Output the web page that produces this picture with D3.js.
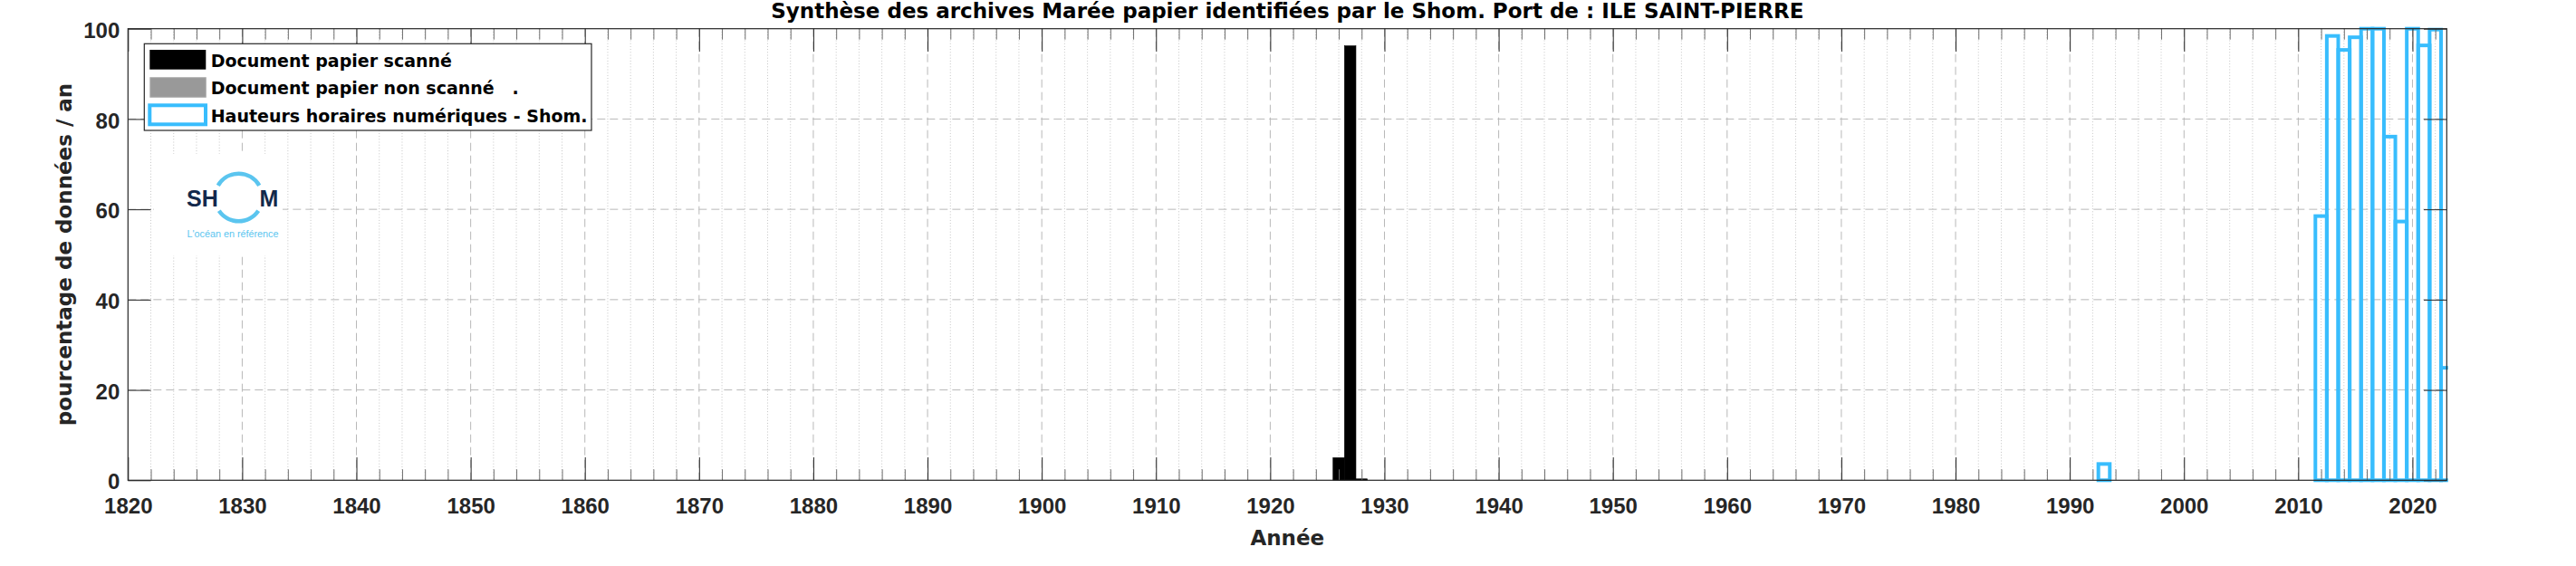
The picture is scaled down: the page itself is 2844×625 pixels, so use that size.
<!DOCTYPE html>
<html><head><meta charset="utf-8">
<script src="https://cdn.jsdelivr.net/npm/d3@7"></script>
<style>
html,body{margin:0;padding:0;background:#fff;}
svg{display:block;}
</style></head><body>
<script>
// ---- data ----
const titleText = "Synthèse des archives Marée papier identifiées par le Shom. Port de : ILE SAINT-PIERRE";
const xLabelText = "Année";
const yLabelText = "pourcentage de données / an";
const legendLabels = ["Document papier scanné", "Document papier non scanné   .", "Hauteurs horaires numériques - Shom."];
const scannedYears = [1926, 1927, 1928];
const scannedPct = [5.0, 96.2, 0.3];
const nonScannedYears = [];
const nonScannedPct = [];
const numericYears = [1993, 2012, 2013, 2014, 2015, 2016, 2017, 2018, 2019, 2020, 2021, 2022, 2023];
const numericPct = [3.6, 58.5, 98.4, 95.3, 98.1, 100, 100, 76.1, 57.3, 100, 96.3, 99.8, 24.9];
const xTickValues = [1820, 1830, 1840, 1850, 1860, 1870, 1880, 1890, 1900, 1910, 1920, 1930, 1940, 1950, 1960, 1970, 1980, 1990, 2000, 2010, 2020];
const xTickLabels = ["1820", "1830", "1840", "1850", "1860", "1870", "1880", "1890", "1900", "1910", "1920", "1930", "1940", "1950", "1960", "1970", "1980", "1990", "2000", "2010", "2020"];
const yTickValues = [0, 20, 40, 60, 80, 100];
const yTickLabels = ["0", "20", "40", "60", "80", "100"];
const xDomain = [1820, 2023];
const yDomain = [0, 100];
const logoWord = ["SH", "M"];
const logoTagline = "L'océan en référence";

// ---- layout ----
const W = 2844, H = 625;
const L = 141.3, R = 2701.3, T = 31.7, B = 530.3;
const TICK = 25.3, MINOR = 12;
const COL_TXT = "#262626";
const BLUE = "#38bdfd";
const TICK_FONT = "'Liberation Sans', Arial, Helvetica, sans-serif";
const LAB_FONT = "'DejaVu Sans', Verdana, sans-serif";

const svg = d3.select("body").append("svg").attr("width", W).attr("height", H);
const x = d3.scaleLinear().domain(xDomain).range([L, R]);
const y = d3.scaleLinear().domain(yDomain).range([B, T]);
const xMinor = d3.range(xDomain[0] + 2, xDomain[1], 2).filter(d => d % 10 !== 0);

// ---- grid ----
const grid = svg.append("g");
grid.selectAll(".mg").data(xMinor).join("line")
  .attr("x1", d => x(d)).attr("x2", d => x(d)).attr("y1", T).attr("y2", B)
  .attr("stroke", "#c4c4c4").attr("stroke-width", 1).attr("stroke-dasharray", "1,2.2");
grid.selectAll(".xg").data(xTickValues.filter(d => d > xDomain[0])).join("line")
  .attr("x1", d => x(d)).attr("x2", d => x(d)).attr("y1", T).attr("y2", B)
  .attr("stroke", "#b8b8b8").attr("stroke-width", 1).attr("stroke-dasharray", "9,5");
grid.selectAll(".yg").data(yTickValues.filter(d => d > 0 && d < 100)).join("line")
  .attr("x1", L).attr("x2", R).attr("y1", d => y(d)).attr("y2", d => y(d))
  .attr("stroke", "#b8b8b8").attr("stroke-width", 1).attr("stroke-dasharray", "9,5");

// ---- logo (white panel) ----
const logo = svg.append("g");
logo.append("rect").attr("x", 170).attr("y", 170).attr("width", 142).attr("height", 112).attr("fill", "#fff");
logo.append("text").attr("x", 206).attr("y", 227.5).text(logoWord[0])
  .attr("font-family", TICK_FONT).attr("font-weight", "bold").attr("font-size", 25).attr("fill", "#13294b");
logo.append("text").attr("x", 286.5).attr("y", 227.5).text(logoWord[1])
  .attr("font-family", TICK_FONT).attr("font-weight", "bold").attr("font-size", 25).attr("fill", "#13294b");
const ring = d3.arc().innerRadius(24).outerRadius(28.5);
logo.append("path").attr("transform", "translate(263.5,218)")
  .attr("d", ring({startAngle: -Math.PI / 3, endAngle: Math.PI / 3})).attr("fill", "#5bc5ef");
logo.append("path").attr("transform", "translate(263.5,218)")
  .attr("d", ring({startAngle: Math.PI * 0.69, endAngle: Math.PI * 1.31})).attr("fill", "#5bc5ef");
logo.append("text").attr("x", 206.5).attr("y", 261.5).text(logoTagline)
  .attr("font-family", TICK_FONT).attr("font-size", 11).attr("fill", "#5bc5ef")
  .attr("textLength", 101).attr("lengthAdjust", "spacingAndGlyphs");

// ---- bars ----
svg.append("clipPath").attr("id", "clip").append("rect")
  .attr("x", 0).attr("y", 0).attr("width", R + 1.5).attr("height", H);
const plot = svg.append("g").attr("clip-path", "url(#clip)");
plot.selectAll(".sc").data(scannedYears.map((yr, i) => ({yr, v: scannedPct[i]}))).join("rect")
  .attr("x", d => x(d.yr - 0.5)).attr("width", d => x(d.yr + 0.5) - x(d.yr - 0.5))
  .attr("y", d => y(d.v)).attr("height", d => y(0) - y(d.v))
  .attr("fill", "#000").attr("stroke", "#000").attr("stroke-width", 0.6);
plot.selectAll(".ns").data(nonScannedYears.map((yr, i) => ({yr, v: nonScannedPct[i]}))).join("rect")
  .attr("x", d => x(d.yr - 0.5)).attr("width", d => x(d.yr + 0.5) - x(d.yr - 0.5))
  .attr("y", d => y(d.v)).attr("height", d => y(0) - y(d.v))
  .attr("fill", "#999").attr("stroke", "#999");
plot.selectAll(".nu").data(numericYears.map((yr, i) => ({yr, v: numericPct[i]}))).join("rect")
  .attr("x", d => x(d.yr - 0.5)).attr("width", d => x(d.yr + 0.5) - x(d.yr - 0.5))
  .attr("y", d => y(d.v)).attr("height", d => y(0) - y(d.v))
  .attr("fill", "none").attr("stroke", BLUE).attr("stroke-width", 4);

// ---- axes ----
function styleAxis(g, showText) {
  g.select(".domain").remove();
  g.selectAll(".tick line").attr("stroke", COL_TXT).attr("stroke-width", 1);
  if (!showText) g.selectAll(".tick text").remove();
  g.selectAll(".tick text").attr("fill", COL_TXT).attr("font-family", TICK_FONT)
    .attr("font-weight", "bold").attr("font-size", 24);
}
const minorStyle = g => { g.select(".domain").remove(); g.selectAll(".tick text").remove();
  g.selectAll(".tick line").attr("stroke", "#6e6e6e").attr("stroke-width", 1); };

svg.append("g").attr("transform", `translate(0,${B})`)
  .call(d3.axisBottom(x).tickValues(xMinor).tickSizeInner(-MINOR).tickSizeOuter(0)).call(minorStyle);
svg.append("g").attr("transform", `translate(0,${T})`)
  .call(d3.axisTop(x).tickValues(xMinor).tickSizeInner(-MINOR).tickSizeOuter(0)).call(minorStyle);

const xb = svg.append("g").attr("transform", `translate(0,${B})`)
  .call(d3.axisBottom(x).tickValues(xTickValues).tickFormat((d, i) => xTickLabels[i])
    .tickSizeInner(-TICK).tickSizeOuter(0).tickPadding(19.4));
styleAxis(xb, true);
const xt = svg.append("g").attr("transform", `translate(0,${T})`)
  .call(d3.axisTop(x).tickValues(xTickValues).tickSizeInner(-TICK).tickSizeOuter(0));
styleAxis(xt, false);
const yl = svg.append("g").attr("transform", `translate(${L},0)`)
  .call(d3.axisLeft(y).tickValues(yTickValues).tickFormat((d, i) => yTickLabels[i])
    .tickSizeInner(-TICK).tickSizeOuter(0).tickPadding(9));
styleAxis(yl, true);
yl.selectAll(".tick text").attr("dy", "0.4em");
const yr = svg.append("g").attr("transform", `translate(${R},0)`)
  .call(d3.axisRight(y).tickValues(yTickValues).tickSizeInner(-TICK).tickSizeOuter(0));
styleAxis(yr, false);

svg.append("rect").attr("x", L).attr("y", T).attr("width", R - L).attr("height", B - T)
  .attr("fill", "none").attr("stroke", COL_TXT).attr("stroke-width", 1.2);

// ---- labels ----
svg.append("text").attr("x", (L + R) / 2).attr("y", 19.5).attr("text-anchor", "middle")
  .attr("font-family", LAB_FONT).attr("font-weight", "bold").attr("font-size", 23).attr("fill", "#000")
  .text(titleText);
svg.append("text").attr("x", (L + R) / 2).attr("y", 601.5).attr("text-anchor", "middle")
  .attr("font-family", LAB_FONT).attr("font-weight", "bold").attr("font-size", 23).attr("fill", COL_TXT)
  .text(xLabelText);
svg.append("text").attr("transform", `translate(79,${(T + B) / 2}) rotate(-90)`).attr("text-anchor", "middle")
  .attr("font-family", LAB_FONT).attr("font-weight", "bold").attr("font-size", 23).attr("fill", COL_TXT)
  .text(yLabelText);

// ---- legend ----
const lg = svg.append("g");
lg.append("rect").attr("x", 159.3).attr("y", 48.3).attr("width", 493.7).attr("height", 95.7)
  .attr("fill", "#fff").attr("stroke", COL_TXT).attr("stroke-width", 1.2);
const rowsY = [55, 85.7, 116.3];
lg.append("rect").attr("x", 165.3).attr("y", rowsY[0]).attr("width", 62).attr("height", 21.7).attr("fill", "#000");
lg.append("rect").attr("x", 165.8).attr("y", rowsY[1]).attr("width", 61.5).attr("height", 21.6)
  .attr("fill", "#999").attr("stroke", "#b0b0b0").attr("stroke-width", 1);
lg.append("rect").attr("x", 165.3).attr("y", rowsY[2]).attr("width", 61.7).attr("height", 21)
  .attr("fill", "#fff").attr("stroke", BLUE).attr("stroke-width", 4);
const baselines = [74, 104, 135];
lg.selectAll(".lt").data(legendLabels).join("text")
  .attr("x", 232.7).attr("y", (d, i) => baselines[i]).text(d => d)
  .attr("font-family", LAB_FONT).attr("font-weight", "bold").attr("font-size", 19).attr("fill", "#000")
  .style("white-space", "pre");
</script>
</body></html>
